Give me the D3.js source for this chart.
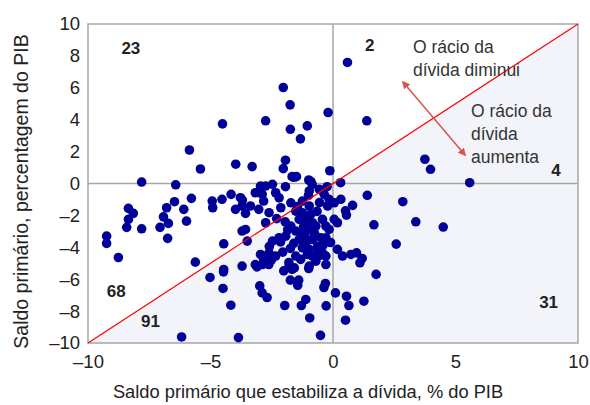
<!DOCTYPE html>
<html>
<head>
<meta charset="utf-8">
<script src="https://cdn.jsdelivr.net/npm/d3@7"></script>
<style>
  html, body { margin: 0; padding: 0; background: #ffffff; }
  svg { display: block; }
  text { font-family: "Liberation Sans Narrow", "Arial Narrow", "Liberation Sans", Arial, sans-serif; }
</style>
</head>
<body>
<svg id="chart" width="590" height="405"></svg>
<script>
// Debt-stabilizing primary balance (x) vs. actual primary balance (y), % of GDP
const xVals = [
  0.59, 1.38, -2.03, -1.75, -4.51, -2.75, -1.74, -1.33, -1.05, -0.20,
  -5.86, -5.41, -3.97, -3.30, -1.94, -2.03, -1.60, -7.81, -1.67, -1.49,
  -0.13, -0.99, -0.90, 3.75, 3.98, 5.58, 0.31, -6.42, -0.85, -0.24,
  -1.94, -2.75, -2.47, -2.34, -3.17, -0.97, -0.56, -0.36, -0.16, 0.05,
  0.32, -0.22, -1.72, -1.25, -0.97, -2.13, -2.61, -2.75, -1.52, -1.25,
  -0.91, -1.38, -1.11, -0.84, -0.43, -0.29, 0.05, 0.18, -1.72, -1.52,
  -1.25, -0.97, -0.70, -0.16, -0.29, -0.50, -2.20, -2.47, -1.93, -1.38,
  -1.11, -0.84, -1.25, -0.97, -0.63, -0.43, -1.52, -1.32, -0.84, -0.70,
  -0.29, 0.18, 0.39, -2.61, -2.34, -2.88, -1.79, -1.58, -0.97, -0.29,
  -2.88, 0.73, -2.96, -2.89, -2.83, -5.78, -4.93, -4.91, -4.53, -4.16,
  -3.78, -3.71, -3.98, -3.37, -3.57, -6.09, -5.98, -3.03, -3.71, -3.57,
  -3.50, -4.46, -5.62, -2.96, -2.83, -3.17, -2.62, -3.71, -4.46, -6.47,
  -6.79, -6.92, -6.72, -7.06, -6.75, -7.81, -8.35, -8.15, -8.35, -8.42,
  -9.24, -9.24, -8.76, -3.70, -5.02, -4.47, -4.49, -4.17, -6.18, -3.86,
  -2.14, -1.74, -2.52, -3.10, -2.01, -1.67, -0.99, -0.51, 0.96, 1.10,
  1.19, 1.76, 2.58, -1.74, -1.40, -1.44, -2.99, -2.89, -2.69, -0.31,
  -0.37, 0.10, 0.55, 0.65, 1.26, 0.51, -1.97, -1.29, -1.11, -0.28,
  -0.95, -0.51, 1.40, 2.85, 3.38, 4.50, 1.67, 0.80, 0.51, 0.55,
  -1.45, -1.05, -0.65, -1.85, -1.60, -1.15, -0.75, -0.40, -2.05, -1.80,
  -1.05, -0.60, -2.30, -1.95, -1.20, -0.55, -2.20, -1.00, -0.10, -2.60
];
const yVals = [
  7.59, 3.93, 6.02, 4.93, 3.74, 3.93, 3.40, 2.80, 3.61, 4.45,
  2.10, 0.91, 1.21, 1.06, 1.46, 0.93, 0.39, 0.09, 0.43, 0.43,
  0.80, 0.22, 0.12, 1.52, 0.89, 0.05, 0.05, -0.08, -0.05, -0.20,
  -0.20, -0.16, -0.05, -0.58, -0.58, -0.47, -0.36, -0.68, -0.99, -1.21,
  -0.99, -1.41, -1.21, -1.10, -1.41, -1.52, -1.83, -2.46, -1.73, -1.83,
  -1.93, -2.25, -2.36, -2.46, -2.25, -2.67, -2.25, -2.46, -2.67, -2.98,
  -3.09, -2.88, -2.67, -2.88, -3.40, -3.40, -3.40, -3.61, -3.30, -3.51,
  -3.72, -3.51, -4.03, -4.13, -3.93, -4.35, -4.55, -4.76, -4.55, -4.87,
  -4.55, -4.13, -4.55, -4.35, -4.55, -4.55, -5.18, -5.29, -5.18, -5.08,
  -5.08, -4.45, -0.16, -0.68, -1.10, -0.93, -1.10, -1.52, -0.99, -0.68,
  -0.89, -1.41, -1.62, -1.41, -1.87, -1.62, -2.36, -1.62, -2.98, -2.88,
  -3.61, -3.78, -4.93, -4.45, -4.76, -5.08, -5.08, -5.18, -5.39, -1.14,
  -1.52, -2.09, -2.50, -2.75, -3.44, -2.84, -1.56, -1.87, -2.25, -2.75,
  -3.30, -3.76, -4.64, -1.04, -5.89, -5.54, -6.58, -7.63, -9.62, -9.66,
  -3.66, -4.07, -4.81, -5.23, -5.48, -5.39, -5.33, -4.49, -4.35, -4.97,
  -4.70, -5.70, -3.80, -6.06, -6.06, -6.38, -6.42, -6.86, -7.15, -6.27,
  -6.52, -6.86, -7.07, -7.65, -7.38, -8.57, -7.65, -7.65, -7.27, -7.67,
  -8.43, -9.52, -0.74, -1.14, -2.40, -2.73, -2.59, -1.37, -1.71, -1.98,
  -1.45, -2.05, -1.75, -2.90, -3.75, -3.25, -3.15, -3.85, -4.30, -4.95,
  -4.45, -4.20, -2.20, -2.40, -2.70, -1.20, -0.90, -0.75, -3.70, -3.95
];

// Country counts by region of the chart
const regionCounts = ["23", "2", "4", "68", "91", "31"];
const regionAnchors = [[-8.25, 8.1], [1.5, 8.3], [9.1, 0.5], [-8.85, -7.1], [-7.45, -9.0], [8.8, -7.8]];

const xTicks = [-10, -5, 0, 5, 10];
const yTicks = [-10, -8, -6, -4, -2, 0, 2, 4, 6, 8, 10];
const xTitle = "Saldo primário que estabiliza a dívida, % do PIB";
const yTitle = "Saldo primário, percentagem do PIB";
const noteDown = ["O rácio da", "dívida diminui"];
const noteUp = ["O rácio da", "dívida", "aumenta"];

const svg = d3.select("#chart");
const margin = { left: 88, right: 12, top: 24, bottom: 62 };
const W = 590, H = 405;
const x = d3.scaleLinear().domain([-10, 10]).range([margin.left, W - margin.right]);
const y = d3.scaleLinear().domain([-10, 10]).range([H - margin.bottom, margin.top]);

const gridGrey = "#a6a6a6";

// shaded triangle below the 45-degree line
svg.append("path")
  .attr("d", d3.line()([[x(-10), y(-10)], [x(10), y(10)], [x(10), y(-10)]]) + "Z")
  .attr("fill", "#f3f4f9");

// zero lines
svg.append("line").attr("x1", x(-10)).attr("x2", x(10)).attr("y1", y(0)).attr("y2", y(0))
  .attr("stroke", gridGrey).attr("stroke-width", 1.5);
svg.append("line").attr("x1", x(0)).attr("x2", x(0)).attr("y1", y(-10)).attr("y2", y(10))
  .attr("stroke", gridGrey).attr("stroke-width", 1.5);

// frame
svg.append("rect").attr("x", x(-10)).attr("y", y(10))
  .attr("width", x(10) - x(-10)).attr("height", y(-10) - y(10))
  .attr("fill", "none").attr("stroke", gridGrey).attr("stroke-width", 1.5);

// points
svg.append("g").selectAll("circle")
  .data(d3.zip(xVals, yVals))
  .join("circle")
  .attr("cx", d => x(d[0]))
  .attr("cy", d => y(d[1]))
  .attr("r", 4.8)
  .attr("fill", "#000099");

// 45-degree line
svg.append("line").attr("x1", x(-10)).attr("y1", y(-10)).attr("x2", x(10)).attr("y2", y(10))
  .attr("stroke", "#ff0000").attr("stroke-width", 1.2);

// axes (labels only)
const fmt = d => d < 0 ? "\u2013" + Math.abs(d) : String(d);
const xAxis = d3.axisBottom(x).tickValues(xTicks).tickSize(0).tickPadding(12).tickFormat(fmt);
const gx = svg.append("g").attr("transform", `translate(0,${y(-10)})`).call(xAxis);
gx.select(".domain").remove();
gx.selectAll("text").attr("font-size", 18.5).attr("fill", "#222")
  .style("font-family", "'Liberation Sans Narrow', 'Arial Narrow', sans-serif");

const yAxis = d3.axisLeft(y).tickValues(yTicks).tickSize(0).tickPadding(8).tickFormat(fmt);
const gy = svg.append("g").attr("transform", `translate(${x(-10)},0)`).call(yAxis);
gy.select(".domain").remove();
gy.selectAll("text").attr("font-size", 18.5).attr("fill", "#222")
  .style("font-family", "'Liberation Sans Narrow', 'Arial Narrow', sans-serif");

// axis titles
svg.append("text").attr("x", 308).attr("y", 398)
  .attr("text-anchor", "middle").attr("font-size", 18.3).attr("fill", "#222")
  .text(xTitle);
svg.append("text")
  .attr("transform", `translate(28,${(y(-10) + y(10)) / 2 + 8}) rotate(-90)`)
  .attr("text-anchor", "middle").attr("font-size", 19.5).attr("fill", "#222")
  .text(yTitle);

// region counts
svg.append("g").selectAll("text")
  .data(d3.zip(regionCounts, regionAnchors))
  .join("text")
  .attr("x", d => x(d[1][0]))
  .attr("y", d => y(d[1][1]))
  .attr("text-anchor", "middle")
  .attr("font-size", 17).attr("font-weight", "bold").attr("fill", "#222")
  .text(d => d[0]);

// annotations
const noteG = svg.append("g").attr("font-size", 17.5).attr("fill", "#333");
noteG.selectAll("text.down").data(noteDown).join("text").attr("class", "down")
  .attr("x", 413).attr("y", (d, i) => 53 + i * 23).text(d => d);
noteG.selectAll("text.up").data(noteUp).join("text").attr("class", "up")
  .attr("x", 471).attr("y", (d, i) => 117 + i * 23).text(d => d);

// double-headed arrow across the line
const defs = svg.append("defs");
defs.append("marker").attr("id", "ah").attr("viewBox", "0 0 10 10")
  .attr("refX", 8).attr("refY", 5).attr("markerWidth", 8).attr("markerHeight", 8)
  .attr("markerUnits", "userSpaceOnUse")
  .attr("orient", "auto-start-reverse")
  .append("path").attr("d", "M0,0 L10,5 L0,10 Z").attr("fill", "#d9534f");
svg.append("line").attr("x1", 403).attr("y1", 82).attr("x2", 465).attr("y2", 155)
  .attr("stroke", "#d9534f").attr("stroke-width", 1.5)
  .attr("marker-start", "url(#ah)").attr("marker-end", "url(#ah)");
</script>
</body>
</html>
